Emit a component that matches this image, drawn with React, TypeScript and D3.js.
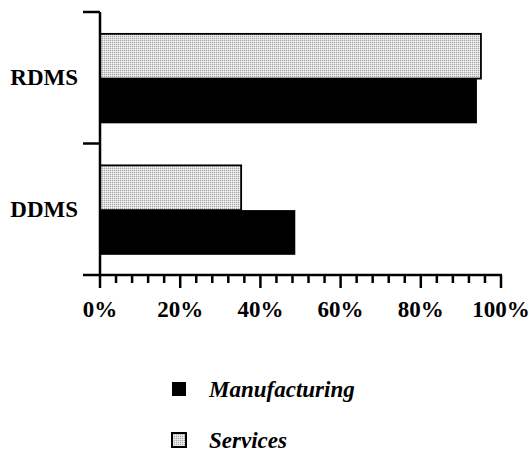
import React from "react";
import * as d3 from "d3";

const categories = ["RDMS", "DDMS"];
const seriesNames = ["Services", "Manufacturing"];
const servicesValues = [95, 35.2];
const manufacturingValues = [94, 48.7];
const xTicks = [0, 20, 40, 60, 80, 100];
const xMinorTicks = d3.range(0, 101, 4);
const legendItems = ["Manufacturing", "Services"];

const W = 529;
const H = 452;

export default function App() {
  const x = d3.scaleLinear().domain([0, 100]).range([100, 501]);
  const y = d3.scaleBand<string>().domain(categories).range([12, 275]).padding(0);
  const inner = d3
    .scaleBand<string>()
    .domain(seriesNames)
    .range([0, y.bandwidth()])
    .paddingInner(0)
    .paddingOuter(0.47)
    .align(0.52);
  const values: Record<string, number[]> = {
    Services: servicesValues,
    Manufacturing: manufacturingValues,
  };
  const fillFor = (s: string) => (s === "Services" ? "url(#dots)" : "#000");
  const font = "'Liberation Serif', 'Times New Roman', serif";
  const axisY = 275;
  const axisX = x(0);

  return (
    <svg width={W} height={H} style={{ position: "absolute", left: 0, top: 0, background: "#fff" }}>
      <defs>
        <pattern id="dots" width="2" height="2" patternUnits="userSpaceOnUse">
          <rect width="2" height="2" fill="#dedede" />
          <rect width="1" height="1" fill="#a8a8a8" />
          <rect x="1" y="1" width="1" height="1" fill="#f0f0f0" />
        </pattern>
      </defs>
      {/* bars */}
      {categories.map((c, i) =>
        seriesNames.map((s) => {
          const y0 = (y(c) ?? 0) + (inner(s) ?? 0);
          const v = values[s][i];
          return (
            <rect
              key={c + s}
              x={x(0)}
              y={y0}
              width={x(v) - x(0)}
              height={inner.bandwidth()}
              fill={fillFor(s)}
              stroke="#000"
              strokeWidth={s === "Services" ? 1.8 : 0}
            />
          );
        })
      )}
      {/* y axis */}
      <line x1={axisX} x2={axisX} y1={12} y2={axisY} stroke="#000" strokeWidth={2.5} />
      {categories.map((c) => y(c) ?? 0).map((yy, i) => (
        <line key={"yt" + i} x1={83} x2={axisX} y1={yy} y2={yy} stroke="#000" strokeWidth={2.5} />
      ))}
      {categories.map((c) => (
        <text
          key={"yl" + c}
          x={78}
          y={(y(c) ?? 0) + y.bandwidth() / 2 + 2}
          textAnchor="end"
          dominantBaseline="middle"
          fontFamily={font}
          fontWeight="bold"
          fontSize={23}
        >
          {c}
        </text>
      ))}
      {/* x axis */}
      <line x1={83} x2={x(100) + 1} y1={axisY} y2={axisY} stroke="#000" strokeWidth={2.5} />
      {xMinorTicks.map((t) => {
        const major = t % 20 === 0;
        return (
          <line
            key={"xt" + t}
            x1={x(t)}
            x2={x(t)}
            y1={axisY}
            y2={axisY + (major ? 13 : 8)}
            stroke="#000"
            strokeWidth={2.5}
          />
        );
      })}
      {xTicks.map((t) => (
        <text
          key={"xl" + t}
          x={x(t)}
          y={316.5}
          textAnchor="middle"
          fontFamily={font}
          fontWeight="bold"
          fontSize={23}
        >
          {t + "%"}
        </text>
      ))}
      {/* legend */}
      {legendItems.map((name, i) => {
        const cy = 389 + i * 51;
        return (
          <g key={"lg" + name}>
            <rect
              x={172}
              y={cy - 7}
              width={14}
              height={14}
              fill={name === "Services" ? "url(#dots)" : "#000"}
              stroke="#000"
              strokeWidth={name === "Services" ? 2 : 0}
            />
            <text
              x={209}
              y={cy + 8}
              fontFamily={font}
              fontWeight="bold"
              fontStyle="italic"
              fontSize={23}
            >
              {name}
            </text>
          </g>
        );
      })}
    </svg>
  );
}
